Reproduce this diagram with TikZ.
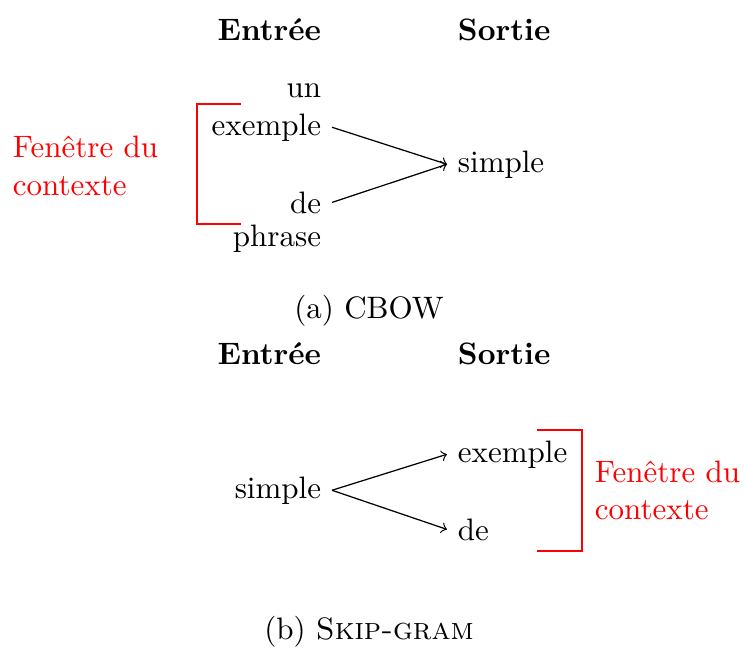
\documentclass[tikz,border=0pt]{standalone}
\usepackage{amsmath,amssymb}
\usepackage{color}
\usetikzlibrary{shapes,calc}

\begin{document}
\begin{tikzpicture}[x=0.3226pt,y=-0.3226pt,
  entree/.style={anchor=base east},
  sortie/.style={anchor=base west},
  titre/.style={font=\bfseries},
  fenetre/.style={red, align=left},
  crochet/.style={red, thick}]
\useasboundingbox (0,0) rectangle (745,650);
% (a) CBOW
\node[entree, titre] (ea) at (332,40) {Entrée};
\node[sortie, titre] (sa) at (447,40) {Sortie};
\node[entree] (un) at (332,97) {un};
\node[entree] (exa) at (332,135) {exemple};
\node[entree] (dea) at (332,213) {de};
\node[entree] (phr) at (332,246) {phrase};
\node[sortie] (sima) at (447,172) {simple};
\draw[->] (exa.east) -- (sima.west);
\draw[->] (dea.east) -- (sima.west);
\coordinate (ca1) at (241,104);
\coordinate (ca2) at (197,104);
\coordinate (ca3) at (197,224);
\coordinate (ca4) at (241,224);
\draw[crochet] (ca1) -- (ca2) -- (ca3) -- (ca4);
\node[fenetre, anchor=west] (fa) at (2,166) {Fenêtre du\\contexte};
\node[anchor=base] (capa) at (369,318) {(a) CBOW};
%
%
% (b) Skip-gram
\node[entree, titre] (eb) at (332,364) {Entrée};
\node[sortie, titre] (sb) at (447,364) {Sortie};
\node[entree] (simb) at (332,498) {simple};
\node[sortie] (exb) at (447,462) {exemple};
\node[sortie] (deb) at (447,540) {de};
\draw[->] (simb.east) -- (exb.west);
\draw[->] (simb.east) -- (deb.west);
\coordinate (cb1) at (537,430);
\coordinate (cb2) at (582,430);
\coordinate (cb3) at (582,551);
\coordinate (cb4) at (537,551);
\draw[crochet] (cb1) -- (cb2) -- (cb3) -- (cb4);
\node[fenetre, anchor=west] (fb) at (584,490) {Fenêtre du\\contexte};
\node[anchor=base] (capb) at (369,639) {(b) \textsc{Skip-gram}};
\end{tikzpicture}
\end{document}
